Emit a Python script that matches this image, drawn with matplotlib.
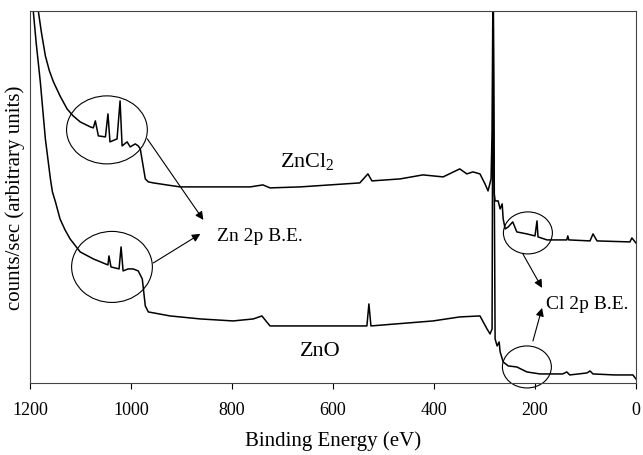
import matplotlib
matplotlib.use("Agg")
import matplotlib.pyplot as plt
from matplotlib.patches import Ellipse

plt.rcParams['font.family'] = ['Liberation Serif', 'DejaVu Serif']
plt.rcParams['mathtext.fontset'] = 'custom'
plt.rcParams['mathtext.rm'] = 'Liberation Serif'

# binding energy (eV) and counts (arbitrary units)
zncl2_be = [1200, 1184, 1178, 1170, 1162, 1154, 1141, 1127, 1115, 1101, 1081, 1075, 1071, 1065,
            1051, 1046, 1042, 1028, 1022, 1018, 1008, 1002, 992, 986, 982, 972, 966, 956, 930, 903,
            764, 739, 725, 665, 547, 531, 523, 467, 422, 382, 349, 335, 323, 309,
            299, 293, 287, 285, 283, 281, 279, 273, 269, 265, 263, 259, 253, 244,
            236, 216, 200, 196, 194, 176, 150, 137, 135, 133, 91, 85, 77, 12, 8, 0]
zncl2_cts = [500, 372, 351, 327, 312, 301, 287, 274, 267, 261, 256, 255, 262, 247,
             246, 269, 241, 244, 282, 237, 241, 236, 239, 237, 234, 204, 201, 200, 198, 196,
             196, 198, 195, 196, 200, 209, 202, 204, 208, 206, 214, 209, 211, 209,
             199, 192, 204, 251, 420, 190, 182, 182, 174, 179, 164, 154, 156, 161,
             151, 149, 147, 162, 146, 143, 143, 143, 147, 143, 142, 149, 142, 141, 145, 140]

zno_be = [1200, 1194, 1188, 1180, 1170, 1160, 1156, 1150, 1141, 1131, 1121, 1101, 1075, 1051,
          1046, 1044, 1040, 1024, 1020, 1016, 1006, 996, 986, 978, 972, 966, 923, 863, 798,
          758, 741, 725, 600, 533, 529, 525, 402, 349, 309, 295, 289, 285, 283, 279, 275,
          271, 269, 263, 253, 236, 216, 190, 145, 137, 131, 97, 91, 85, 42, 6, 0]
zno_cts = [440, 372, 339, 301, 244, 204, 191, 181, 164, 153, 144, 131, 124, 119,
           118, 127, 116, 114, 136, 112, 114, 114, 112, 104, 77, 71, 67, 64, 62,
           64, 67, 57, 57, 57, 79, 57, 62, 66, 67, 54, 49, 54, 420, 44, 37,
           41, 31, 21, 17, 16, 11, 9, 9, 11, 8, 10, 12, 9, 8, 8, 4]

xticks = [1200, 1000, 800, 600, 400, 200, 0]

fig = plt.figure(figsize=(6.43, 4.56), dpi=100)
ax = fig.add_axes([0.047, 0.158, 0.942, 0.816])

ax.plot(zncl2_be, zncl2_cts, color='black', lw=1.1)
ax.plot(zno_be, zno_cts, color='black', lw=1.1)

ax.set_xlim(1200, 0)
ax.set_ylim(0, 372)
ax.set_xticks(xticks)
ax.set_xticklabels([str(t) for t in xticks])
ax.set_yticks([])
ax.tick_params(axis='x', direction='out', length=4, width=0.8, pad=9, labelsize=13)
for s in ax.spines.values():
    s.set_linewidth(0.8)
    s.set_color('#444444')

ax.set_xlabel('Binding Energy (eV)', fontsize=15, labelpad=9)
ax.set_ylabel('counts/sec (arbitrary units)', fontsize=15, labelpad=4)

# circles round the peaks
for cx, cy, w, h in [(1048, 253, 160, 68), (1038, 116, 160, 71),
                     (214, 150, 97, 42), (216, 16, 97, 42)]:
    ax.add_patch(Ellipse((cx, cy), w, h, fill=False, ec='black', lw=0.8, clip_on=False))

arrow = dict(arrowstyle='-|>', color='black', lw=0.8, mutation_scale=12, shrinkA=0, shrinkB=0)
ax.annotate('', xy=(857, 163), xytext=(968, 244), arrowprops=arrow)
ax.annotate('', xy=(863, 149), xytext=(956, 120), arrowprops=arrow)
ax.annotate('', xy=(186, 95), xytext=(224, 129), arrowprops=arrow)
ax.annotate('', xy=(186, 75), xytext=(204, 42), arrowprops=arrow)

ax.text(830, 147, 'Zn 2p B.E.', fontsize=14, ha='left', va='center')
ax.text(178, 79, 'Cl 2p B.E.', fontsize=14, ha='left', va='center')
ax.text(705, 216, 'ZnCl$_2$', fontsize=16, ha='left', va='baseline')
ax.text(665, 32, 'ZnO', fontsize=16, ha='left', va='center')

fig.savefig('out.png', dpi=100)
